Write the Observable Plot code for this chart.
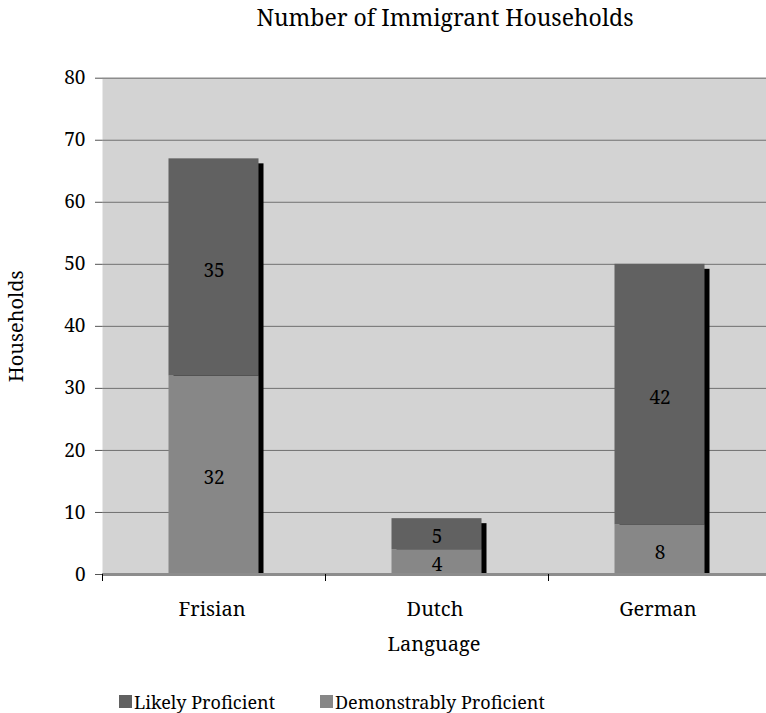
<!DOCTYPE html>
<html>
<head>
<meta charset="utf-8">
<script src="https://cdn.jsdelivr.net/npm/d3@7"></script>
<script src="https://cdn.jsdelivr.net/npm/@observablehq/plot@0.6"></script>
<style>
  html, body { margin: 0; padding: 0; background: #fff; overflow: hidden; }
  body { width: 766px; height: 713px; position: relative; font-family: 'Noto Serif', 'Liberation Serif', serif; color: #000; }
  #title { position: absolute; left: 102px; width: 686px; top: 5px; text-align: center; font-size: 23px; line-height: 24px; font-family: 'Noto Serif', 'Liberation Serif', serif; }
  #chart { position: absolute; left: 0; top: 40px; }
  .lg { position: absolute; top: 691px; font-size: 18px; line-height: 22px; white-space: nowrap; font-family: 'Noto Serif', 'Liberation Serif', serif; }
  .sw { position: absolute; width: 13px; height: 13px; top: 695px; }
</style>
</head>
<body>
<div id="title">Number of Immigrant Households</div>
<div id="chart"></div>
<div id="legend"></div>
<script>
// ---- data ----
const languages = ["Frisian", "Dutch", "German"];
const seriesNames = ["Likely Proficient", "Demonstrably Proficient"];
const likelyProficient = [35, 5, 42];
const demonstrablyProficient = [32, 4, 8];
const yTicks = [0, 10, 20, 30, 40, 50, 60, 70, 80];
const seriesColors = ["#616161", "#878787"];

const FONT = "'Noto Serif', 'Liberation Serif', serif";

// table (bottom segment first so it stacks at the bottom)
const rows = [];
languages.forEach((l, i) => rows.push({language: l, series: seriesNames[1], value: demonstrablyProficient[i]}));
languages.forEach((l, i) => rows.push({language: l, series: seriesNames[0], value: likelyProficient[i]}));
const totals = languages.map((l, i) => ({language: l, total: likelyProficient[i] + demonstrablyProficient[i]}));

const W = 766, H = 625;
const mL = 102, mR = -5, mT = 37.7, mB = 91;
const step = (W - mR - mL) / languages.length;
const inset = (step - 90) / 2;

const chart = Plot.plot({
  width: W,
  height: H,
  marginLeft: mL,
  marginRight: mR,
  marginTop: mT,
  marginBottom: mB,
  style: {fontFamily: FONT, fontSize: "20px", color: "#000", background: "transparent"},
  x: {domain: languages, padding: 0, round: false, axis: null},
  y: {domain: [0, 80], axis: null},
  color: {domain: seriesNames, range: seriesColors},
  marks: [
    Plot.frame({fill: "#d3d3d3", stroke: null}),
    Plot.gridY(yTicks.filter(t => t > 0 && t < 80), {stroke: "#707070", strokeOpacity: 1, strokeWidth: 1}),
    Plot.ruleY([80], {stroke: "#8c8c8c", strokeWidth: 1.5}),
    // shadows
    Plot.barY(totals, {x: "language", y: "total", fill: "#000", dx: 5, insetTop: 5, insetLeft: inset, insetRight: inset}),
    // stacked bars
    Plot.barY(rows, {x: "language", y: "value", fill: "series", insetLeft: inset, insetRight: inset}),
    // segment labels
    Plot.text(rows, Plot.stackY({x: "language", y: "value", text: "value", fill: "#000", fontSize: 19, dy: 3, fontFamily: FONT})),
    // axes lines
    Plot.ruleX([0], {frameAnchor: "left", stroke: "#8c8c8c", strokeWidth: 2}),
    Plot.axisY({ticks: yTicks, tickSize: 7, tickPadding: 10, stroke: "#555", fontSize: 19, fontFamily: FONT, label: null}),
    Plot.ruleY([0], {stroke: "#8c8c8c", strokeWidth: 3}),
    // x tick marks at category boundaries
    Plot.barY(languages, {x: d => d, y1: 0, y2: 0, insetBottom: -7, insetRight: step - 1, fill: "#000"}),
    // category labels
    Plot.text(languages, {x: d => d, frameAnchor: "bottom", dy: 35, dx: -2, lineAnchor: "middle", fontSize: 20, fontFamily: FONT}),
    // axis titles
    Plot.text(["Language"], {frameAnchor: "bottom", dy: 70, dx: -3, lineAnchor: "middle", fontSize: 20, fontFamily: FONT}),
    Plot.text(["Households"], {frameAnchor: "left", dx: -86, rotate: -90, lineAnchor: "middle", textAnchor: "middle", fontSize: 20, fontFamily: FONT})
  ]
});
document.getElementById("chart").appendChild(chart);

// legend
const legend = document.getElementById("legend");
const legendPos = [{sw: 119, tx: 134}, {sw: 320, tx: 335}];
seriesNames.forEach((s, i) => {
  const sw = document.createElement("div");
  sw.className = "sw";
  sw.style.left = legendPos[i].sw + "px";
  sw.style.background = seriesColors[i];
  legend.appendChild(sw);
  const t = document.createElement("div");
  t.className = "lg";
  t.style.left = legendPos[i].tx + "px";
  t.textContent = s;
  legend.appendChild(t);
});
</script>
</body>
</html>
